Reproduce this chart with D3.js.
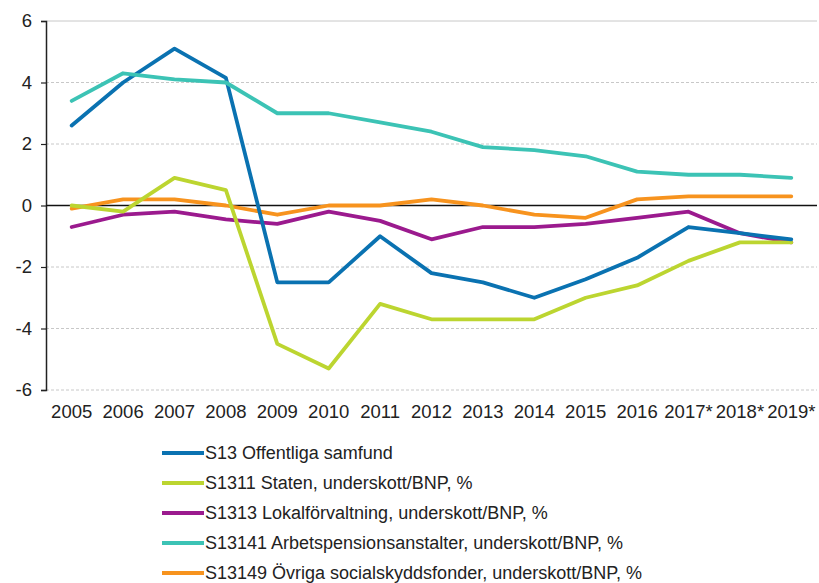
<!DOCTYPE html>
<html><head><meta charset="utf-8">
<script src="https://cdn.jsdelivr.net/npm/d3@7"></script>
<style>
body{margin:0;background:#fff;}
text{font-family:"Liberation Sans",Arial,sans-serif;fill:#222;}
</style></head><body>
<svg id="c" width="819" height="583"></svg>
<script>
const years = ["2005","2006","2007","2008","2009","2010","2011","2012","2013","2014","2015","2016","2017*","2018*","2019*"];
const s13     = [2.6, 4.0, 5.1, 4.15, -2.5, -2.5, -1.0, -2.2, -2.5, -3.0, -2.4, -1.7, -0.7, -0.9, -1.1];
const s1311   = [0.0, -0.2, 0.9, 0.5, -4.5, -5.3, -3.2, -3.7, -3.7, -3.7, -3.0, -2.6, -1.8, -1.2, -1.2];
const s1313   = [-0.7, -0.3, -0.2, -0.45, -0.6, -0.2, -0.5, -1.1, -0.7, -0.7, -0.6, -0.4, -0.2, -0.9, -1.2];
const s13141  = [3.4, 4.3, 4.1, 4.0, 3.0, 3.0, 2.7, 2.4, 1.9, 1.8, 1.6, 1.1, 1.0, 1.0, 0.9];
const s13149  = [-0.1, 0.2, 0.2, 0.0, -0.3, 0.0, 0.0, 0.2, 0.0, -0.3, -0.4, 0.2, 0.3, 0.3, 0.3];
const seriesNames = ["S13 Offentliga samfund","S1311 Staten, underskott/BNP, %","S1313 Lokalförvaltning, underskott/BNP, %","S13141 Arbetspensionsanstalter, underskott/BNP, %","S13149 Övriga socialskyddsfonder, underskott/BNP, %"];
const seriesColors = ["#0a72b1","#bcd530","#9b1a8e","#3cc3b5","#f7931e"];
const yTicks = [-6,-4,-2,0,2,4,6];

const svg = d3.select("#c");
const pL = 46, pR = 817, pT = 21, pB = 390;
const x = d3.scaleBand().domain(years).range([pL, pR]);
const y = d3.scaleLinear().domain([-6, 6]).range([pB, pT]);
const cx = d => x(d) + x.bandwidth()/2;

// grid
svg.append("g").selectAll("line").data(yTicks.filter(t => t !== 0)).join("line")
  .attr("x1", pL).attr("x2", pR).attr("y1", d => y(d)).attr("y2", d => y(d))
  .attr("stroke", "#c8c8c8").attr("stroke-width", 1)
  .attr("stroke-dasharray", d => d === 6 ? null : "3,2");

// y axis
const ya = svg.append("g").attr("transform", `translate(${pL},0)`)
  .call(d3.axisLeft(y).tickValues(yTicks).tickSize(5).tickPadding(9).tickFormat(d => String(d)));
ya.select(".domain").attr("stroke", "#222").attr("stroke-width", 1.5);
ya.selectAll(".tick line").attr("stroke", "#222").attr("stroke-width", 1.2);
ya.selectAll("text").style("font-size", "18.5px").attr("fill", "#222");

// zero line
svg.append("line").attr("x1", pL).attr("x2", pR).attr("y1", y(0)).attr("y2", y(0))
  .attr("stroke", "#111").attr("stroke-width", 1.3);

// x labels
const xa = svg.append("g").attr("transform", `translate(0,${pB})`)
  .call(d3.axisBottom(x).tickSize(0).tickPadding(15));
xa.select(".domain").remove();
xa.selectAll("text").style("font-size", "18.5px").attr("fill", "#222");

// lines
const all = [s13, s1311, s1313, s13141, s13149];
const line = d3.line().x((d, i) => cx(years[i])).y(d => y(d));
const drawOrder = [4, 2, 1, 0, 3];
drawOrder.forEach(k => {
  svg.append("path").datum(all[k]).attr("d", line)
    .attr("fill", "none").attr("stroke", seriesColors[k]).attr("stroke-width", 3.8)
    .attr("stroke-linejoin", "round").attr("stroke-linecap", "round");
});

// legend
const lg = svg.append("g");
seriesNames.forEach((n, i) => {
  const yy = 453 + i * 30;
  lg.append("line").attr("x1", 162).attr("x2", 204).attr("y1", yy).attr("y2", yy)
    .attr("stroke", seriesColors[i]).attr("stroke-width", 3.8);
  lg.append("text").attr("x", 205).attr("y", yy).attr("dy", "0.36em")
    .style("font-size", "18px").text(n);
});
</script>
</body></html>
